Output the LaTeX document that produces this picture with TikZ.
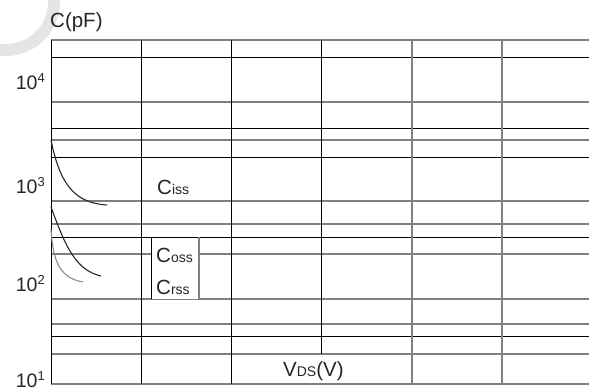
\documentclass[tikz,border=0pt]{standalone}
\usepackage{fontspec}
\setmainfont{Liberation Sans}
\begin{document}
\begin{tikzpicture}[x=1pt,y=-1pt,
  blk/.style={black,line width=0.9pt},
  gry/.style={black!50,line width=1.3pt},
  lbl/.style={inner sep=0pt,anchor=base west,font=\fontsize{20.5}{22}\selectfont,text=black!85},
  tick/.style={inner sep=0pt,anchor=base east,font=\fontsize{19.5}{21}\selectfont,text=black!85},
  curveblk/.style={black!85,line width=1.1pt},
  curvegry/.style={black!45,line width=1.1pt}]
\useasboundingbox (0,0) rectangle (589,391);
% watermark ring
\draw[line width=12pt,black!10] (6,2) circle (48);
% horizontal grid lines
\foreach \y in {40,102,140,201,224,254,299,324,354,384} \draw[gry] (51,\y) -- (589,\y);
\foreach \y in {57,128,157,237,336} \draw[blk] (51,\y) -- (589,\y);
% vertical grid lines
\foreach \x in {51,141,231} \draw[blk] (\x,40) -- (\x,384);
\draw[blk] (321,40) -- (321,354);
\foreach \x in {412,502} \draw[gry] (\x,40) -- (\x,384);
% legend box
\fill[white] (151,237.5) rectangle (199,298.5);
\draw[blk] (151,237) -- (151,299);
\draw[gry] (199,237) -- (199,299);
% curves
\draw[curveblk] (51,140) .. controls (60,185) and (75,203) .. (107,205);
\draw[curveblk] (51,207) .. controls (65,245) and (75,270) .. (101,276);
\draw[curvegry] (51,229) .. controls (53,262) and (60,278) .. (83,282);
% labels
\node[lbl] (cpf) at (50,27) {C(pF)};
\node[tick] (t4) at (45,89) {10\raisebox{6.5pt}{\fontsize{13}{13}\selectfont 4}};
\node[tick] (t3) at (45,193) {10\raisebox{6.5pt}{\fontsize{13}{13}\selectfont 3}};
\node[tick] (t2) at (45,291) {10\raisebox{6.5pt}{\fontsize{13}{13}\selectfont 2}};
\node[tick] (t1) at (45,387) {10\raisebox{6.5pt}{\fontsize{13}{13}\selectfont 1}};
\node[lbl] (ciss) at (157,194) {C{\fontsize{14}{14}\selectfont iss}};
\node[lbl] (coss) at (156,262) {C{\fontsize{14}{14}\selectfont oss}};
\node[lbl] (crss) at (156,294) {C{\fontsize{14}{14}\selectfont rss}};
\node[lbl] (vds) at (283,376) {V{\fontsize{14}{14}\selectfont DS}(V)};
\end{tikzpicture}
\end{document}
